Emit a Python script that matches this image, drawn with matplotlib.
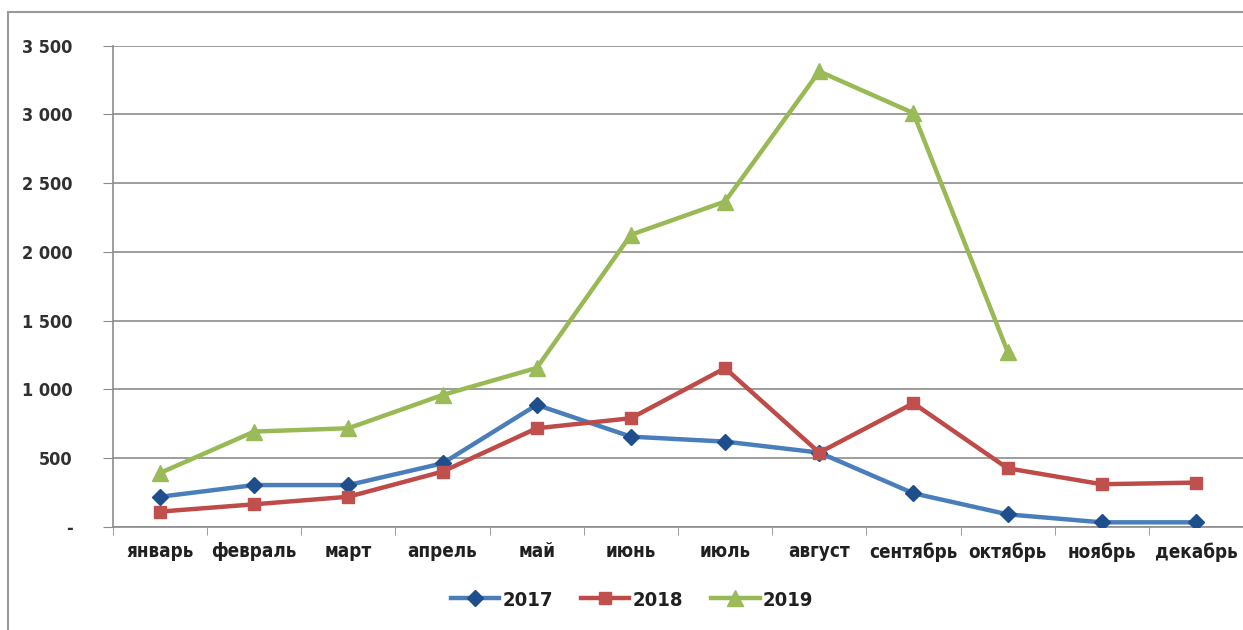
import matplotlib
matplotlib.use("Agg")
import matplotlib.pyplot as plt
from matplotlib.patches import Rectangle

plt.rcParams['font.family'] = ['DejaVu Sans']
plt.rcParams['font.stretch'] = 'condensed'

months = ["январь", "февраль", "март", "апрель", "май", "июнь",
          "июль", "август", "сентябрь", "октябрь", "ноябрь", "декабрь"]
y2017 = [220, 305, 305, 463, 888, 657, 621, 541, 245, 92, 34, 34]
y2018 = [112, 165, 220, 403, 718, 791, 1155, 541, 900, 427, 311, 323]
y2019 = [393, 694, 718, 960, 1157, 2125, 2367, 3313, 3010, 1276]
yticks = [0, 500, 1000, 1500, 2000, 2500, 3000, 3500]
ylabels = ["-", "500", "1 000", "1 500", "2 000", "2 500", "3 000", "3 500"]

fig = plt.figure(figsize=(12.43, 6.30), dpi=100)
ax = fig.add_axes([113 / 1243, 1 - 527 / 630, 1 - 113 / 1243, (527 - 45.7) / 630])

grid_c = "#8c8c8c"
ax.plot(range(len(y2017)), y2017, color="#4A7EBB", lw=3.2, marker="D", ms=8.5,
        mfc="#1F4E8C", mec="#1F4E8C", label="2017", zorder=3)
ax.plot(range(len(y2018)), y2018, color="#BE4B48", lw=3.2, marker="s", ms=9,
        mfc="#C0504D", mec="#C0504D", label="2018", zorder=3)
ax.plot(range(len(y2019)), y2019, color="#98B954", lw=3.2, marker="^", ms=11,
        mfc="#9BBB59", mec="#9BBB59", label="2019", zorder=3)

ax.set_ylim(0, 3500)
ax.set_xlim(-0.5, 11.47)
ax.set_yticks(yticks)
ax.set_yticklabels(ylabels)
ax.yaxis.grid(True, color=grid_c, lw=1.2)
ax.set_axisbelow(True)

# month names at category centres, small ticks on category boundaries
ax.set_xticks(range(len(months)))
ax.set_xticklabels(months)
ax.set_xticks([i + 0.5 for i in range(-1, 12)], minor=True)
ax.tick_params(axis="x", which="major", length=0, pad=11, labelsize=13.5,
               labelcolor="#202020")
ax.tick_params(axis="x", which="minor", length=6, color=grid_c, direction="out")
ax.tick_params(axis="y", length=7, color=grid_c, pad=22, labelsize=13,
               labelcolor="#303030")
for lbl in ax.get_xticklabels() + ax.get_yticklabels():
    lbl.set_fontweight("bold")

for s in ["top", "right"]:
    ax.spines[s].set_visible(False)
ax.spines["left"].set_color(grid_c)
ax.spines["bottom"].set_color(grid_c)
ax.spines["left"].set_linewidth(1.2)
ax.spines["bottom"].set_linewidth(1.2)

leg = fig.legend(loc="center", bbox_to_anchor=(632 / 1243, 1 - 600 / 630), ncol=3,
                 frameon=False, handlelength=2.4, columnspacing=1.4, handletextpad=0.15,
                 prop={"size": 14.5, "weight": "bold"})
for t in leg.get_texts():
    t.set_color("#202020")

# outer chart border (right and bottom edges fall outside the image)
fig.patches.append(Rectangle((8 / 1243, -0.1), 1.1, 0.1 + (1 - 12 / 630),
                             transform=fig.transFigure, fill=False, ec="#9a9a9a", lw=1.5))

fig.savefig("out.png", dpi=100)
